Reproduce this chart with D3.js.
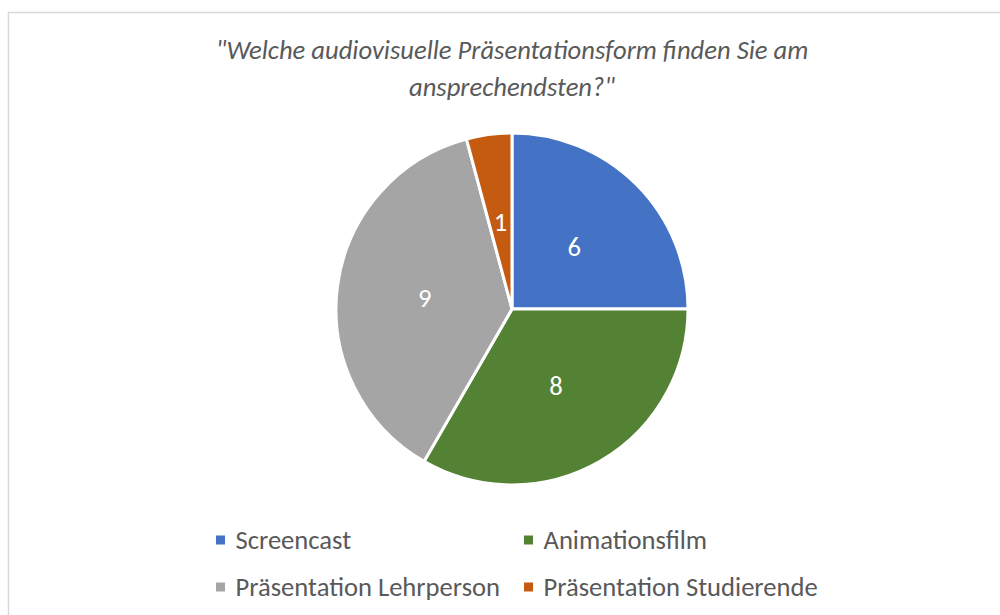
<!DOCTYPE html>
<html><head><meta charset="utf-8">
<script src="https://cdn.jsdelivr.net/npm/d3@7"></script>
<style>body{margin:0;background:#fff}</style>
</head><body>
<script>
const categories = ["Screencast", "Animationsfilm", "Präsentation Lehrperson", "Präsentation Studierende"];
const values = [6, 8, 9, 1];
const colors = ["#4472C4", "#548235", "#A5A5A5", "#C55A11"];
const titleLines = ["\"Welche audiovisuelle Präsentationsform finden Sie am", "ansprechendsten?\""];

const W = 1000, H = 615;
const svg = d3.select("body").append("svg").attr("width", W).attr("height", H);
const font = "Carlito, 'Open Sans', sans-serif";

svg.append("rect").attr("x", 8.5).attr("y", 12.5).attr("width", 1000).attr("height", 700)
  .attr("fill", "#fff").attr("stroke", "#D9D9D9").attr("stroke-width", 1.5);

svg.selectAll("text.title").data(titleLines).join("text")
  .attr("x", 512).attr("y", (d, i) => 59 + i * 37)
  .attr("text-anchor", "middle").attr("font-family", font).attr("font-style", "italic")
  .attr("font-size", 26.6).attr("fill", "#595959").text(d => d);

const cx = 512, cy = 309, r = 176;
const pie = d3.pie().sort(null).value(d => d)(values);
const arc = d3.arc().innerRadius(0).outerRadius(r);
const g = svg.append("g").attr("transform", `translate(${cx},${cy})`);
g.selectAll("path").data(pie).join("path")
  .attr("d", arc).attr("fill", (d, i) => colors[i])
  .attr("stroke", "#fff").attr("stroke-width", 3).attr("stroke-linejoin", "round");
g.selectAll("text").data(pie).join("text")
  .attr("transform", d => `translate(${arc.centroid(d)})`)
  .attr("text-anchor", "middle").attr("dy", "0.35em")
  .attr("font-family", font).attr("font-size", 26.6).attr("fill", "#fff")
  .text(d => d.data);

const legX = [216, 524], legY = [540, 587];
const leg = svg.selectAll("g.leg").data(categories).join("g")
  .attr("transform", (d, i) => `translate(${legX[i % 2]},${legY[Math.floor(i / 2)]})`);
leg.append("rect").attr("x", 0).attr("y", -4.5).attr("width", 9).attr("height", 9)
  .attr("fill", (d, i) => colors[i]);
leg.append("text").attr("x", 19.5).attr("dy", "0.35em")
  .attr("font-family", font).attr("font-size", 26.6).attr("fill", "#595959").text(d => d);
</script>
</body></html>
